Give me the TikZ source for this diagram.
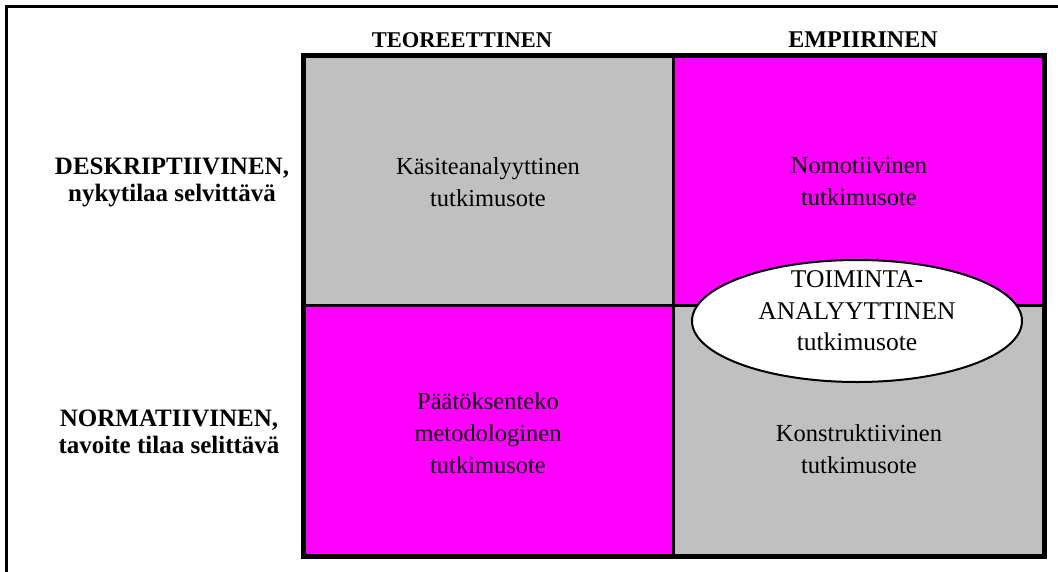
\documentclass[tikz,border=0pt]{standalone}
\usepackage{fontspec}
\setmainfont{Liberation Serif}
\usetikzlibrary{shapes.geometric}

\definecolor{cellgray}{HTML}{C0C0C0}
\definecolor{cellmagenta}{HTML}{FF00FF}

\tikzset{
  frameline/.style={line width=3pt},
  gridline/.style={line width=3pt},
  gridborder/.style={line width=5pt},
  header/.style={inner sep=0pt, anchor=base, font=\fontsize{22.5}{26}\selectfont\bfseries},
  rowlabel/.style={inner sep=0pt, align=center, font=\fontsize{25}{27}\selectfont\bfseries},
  celltext/.style={inner sep=0pt, align=center, font=\fontsize{24.5}{32}\selectfont},
  methodshape/.style={ellipse, draw, line width=2pt, fill=white, minimum width=330pt,
    minimum height=122pt, inner sep=0pt},
  methodtext/.style={inner sep=0pt, align=center, font=\fontsize{25.5}{31.5}\selectfont}
}

\begin{document}
\begin{tikzpicture}[x=1pt, y=-1pt]
  \useasboundingbox (0,0) rectangle (1058,571);

  % open frame: top and left edges
  \coordinate (frameTR) at (1060,6.5);
  \coordinate (frameTL) at (6.5,6.5);
  \coordinate (frameBL) at (6.5,573);
  \draw[frameline] (frameTR) -- (frameTL) -- (frameBL);

  % grid corners and dividers
  \coordinate (gTL) at (303.5,55.5);
  \coordinate (gBR) at (1044.5,556.5);
  \coordinate (gMid) at (673.5,305);

  % four quadrants
  \fill[cellgray]    (gTL) rectangle (gMid);
  \fill[cellmagenta] (gMid |- gTL) rectangle (gBR |- gMid);
  \fill[cellmagenta] (gTL |- gMid) rectangle (gMid |- gBR);
  \fill[cellgray]    (gMid) rectangle (gBR);

  \draw[gridline] (gMid |- gTL) -- (gMid |- gBR);
  \draw[gridline] (gTL |- gMid) -- (gBR |- gMid);
  \draw[gridborder] (gTL) rectangle (gBR);

  % column headers
  \node[header] (hTheory) at (462,47) {TEOREETTINEN};
  \node[header, font=\fontsize{24}{26}\selectfont\bfseries] (hEmpiric) at (863,47) {EMPIIRINEN};

  % row labels
  \node[rowlabel] (rDescr) at (172,182) {DESKRIPTIIVINEN,\\nykytilaa selvittävä};
  \node[rowlabel] (rNorm) at (169,432) {NORMATIIVINEN,\\tavoite tilaa selittävä};

  % quadrant texts
  \node[celltext] (cConcept) at (488,182) {Käsiteanalyyttinen\\tutkimusote};
  \node[celltext] (cNomo) at (859,182) {Nomotiivinen\\tutkimusote};
  \node[celltext] (cDecision) at (488,433) {Päätöksenteko\\metodologinen\\tutkimusote};
  \node[celltext] (cConstr) at (859,449) {Konstruktiivinen\\tutkimusote};

  % action-analytic approach overlapping the two empirical quadrants
  \node[methodshape] (eAction) at (857,321) {};
  \node[methodtext] (eActionText) at (857,311) {TOIMINTA-\\ANALYYTTINEN\\tutkimusote};
\end{tikzpicture}
\end{document}
